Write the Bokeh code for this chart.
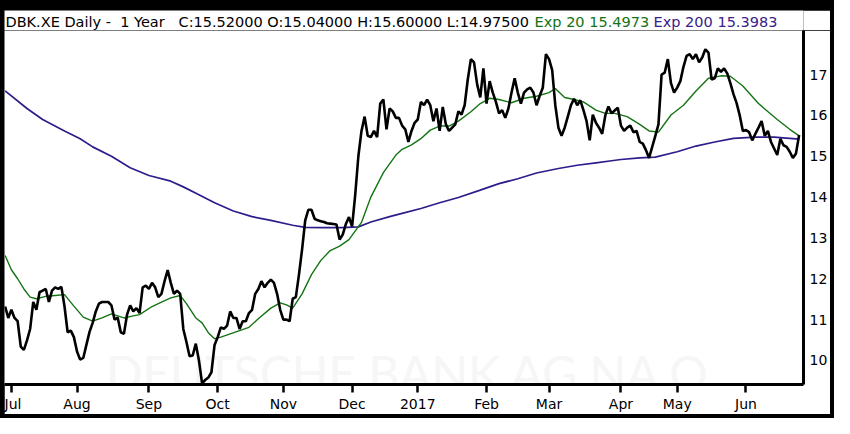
import pandas as pd
from bokeh.plotting import figure
from bokeh.layouts import column
from bokeh.models import Range1d, FixedTicker, Label, ColumnDataSource
from bokeh.core.properties import value
from bokeh.embed import file_html
from bokeh.resources import INLINE

# ---------------- data ----------------
start_date = "2016-06-29"
end_date = "2017-06-26"
holidays = ["2016-12-26", "2017-04-14", "2017-04-17", "2017-05-01"]

close = [
    11.32, 11.04, 11.24, 11.04, 10.96, 10.34, 10.26, 10.49, 10.77, 11.43,
    11.24, 11.67, 11.71, 11.75, 11.43, 11.71, 11.79, 11.75, 11.80, 11.32,
    10.69, 10.73, 10.57, 10.22, 10.02, 10.06, 10.38, 10.70, 10.92, 11.20,
    11.39, 11.43, 11.43, 11.43, 11.35, 11.00, 11.05, 10.69, 10.65, 11.12,
    11.35, 11.20, 11.28, 11.16, 11.79, 11.83, 11.75, 11.90, 11.79, 11.55,
    11.63, 11.94, 12.21, 11.90, 11.63, 11.71, 11.63, 10.77, 10.45, 10.10,
    10.12, 10.41, 10.00, 9.44, 9.52, 9.58, 9.71, 10.38, 10.57, 10.81,
    10.77, 10.85, 11.20, 11.04, 11.04, 10.77, 10.96, 10.96, 11.16, 11.24,
    11.63, 11.75, 11.94, 11.79, 11.90, 11.98, 11.90, 11.63, 11.24, 11.00,
    11.00, 10.96, 11.51, 11.55, 12.10, 12.72, 13.43, 13.69, 13.69, 13.47,
    13.43, 13.41, 13.39, 13.36, 13.35, 13.34, 13.33, 12.96, 13.08, 13.34,
    13.51, 13.28, 14.06, 15.00, 15.62, 15.97, 15.50, 15.47, 15.62, 15.47,
    16.29, 16.39, 15.66, 16.17, 16.10, 15.94, 15.94, 15.75, 15.66, 15.35,
    15.62, 15.82, 15.90, 16.33, 16.25, 16.39, 16.25, 15.86, 16.17, 15.62,
    16.21, 15.78, 15.62, 15.70, 15.78, 16.10, 16.02, 16.25, 16.88, 17.38,
    17.30, 16.76, 16.44, 17.15, 16.29, 16.84, 16.56, 16.33, 16.05, 16.13,
    15.94, 16.17, 16.56, 16.91, 16.56, 16.29, 16.56, 16.64, 16.68, 16.56,
    16.25, 16.48, 16.68, 17.50, 17.38, 17.11, 16.25, 15.70, 15.50, 15.70,
    15.97, 16.25, 16.41, 16.25, 16.37, 16.13, 15.86, 15.39, 16.02, 15.82,
    15.70, 15.55, 16.00, 16.22, 16.05, 16.12, 16.19, 15.75, 15.62, 15.70,
    15.75, 15.59, 15.62, 15.35, 15.31, 15.15, 14.96, 15.23, 15.50, 15.78,
    17.00, 17.05, 17.38, 16.79, 16.56, 16.68, 16.84, 17.19, 17.46, 17.50,
    17.38, 17.50, 17.30, 17.42, 17.62, 17.54, 16.88, 16.91, 17.15, 17.07,
    17.15, 17.03, 16.79, 16.52, 16.30, 16.00, 15.62, 15.64, 15.59, 15.39,
    15.55, 15.70, 15.86, 15.50, 15.62, 15.35, 15.19, 15.03, 15.43, 15.27,
    15.23, 15.11, 14.96, 15.07, 15.52,
]

ema20_day = [0, 2, 4, 6, 8, 10, 13, 16, 19, 22, 25, 28, 31, 34, 38, 41, 43, 47,
             50, 53, 56, 58, 61, 63, 65, 67, 69, 72, 75, 78, 81, 85, 88, 90, 92,
             95, 98, 101, 104, 107, 110, 114, 117, 121, 125, 127, 130, 133, 136,
             139, 142, 145, 149, 152, 155, 158, 162, 166, 170, 174, 176, 179,
             182, 185, 189, 192, 195, 199, 203, 206, 209, 213, 217, 221, 225,
             229, 232, 236, 241, 247, 251, 254]
ema20 = [12.57, 12.22, 12.00, 11.75, 11.55, 11.51, 11.57, 11.59, 11.61, 11.33,
         11.06, 10.96, 11.04, 11.14, 11.04, 11.09, 11.12, 11.32, 11.43, 11.53,
         11.59, 11.39, 11.04, 10.92, 10.68, 10.53, 10.57, 10.65, 10.73, 10.81,
         11.02, 11.28, 11.41, 11.36, 11.28, 11.63, 12.10, 12.45, 12.69, 12.80,
         12.96, 13.38, 14.00, 14.60, 15.03, 15.17, 15.28, 15.43, 15.64, 15.74,
         15.74, 15.86, 16.09, 16.29, 16.42, 16.39, 16.31, 16.42, 16.47, 16.56,
         16.66, 16.44, 16.39, 16.33, 16.13, 16.05, 16.05, 15.97, 15.78, 15.62,
         15.59, 16.01, 16.25, 16.60, 16.91, 16.97, 16.96, 16.72, 16.29, 15.90,
         15.66, 15.50]

ema200_day = [0, 7, 12, 19, 24, 28, 34, 40, 46, 53, 57, 62, 67, 73, 79, 85, 92,
              96, 102, 108, 113, 117, 123, 127, 133, 139, 145, 152, 158, 164,
              170, 177, 183, 189, 194, 197, 203, 208, 215, 221, 227, 233, 240,
              246, 254]
ema200 = [16.60, 16.17, 15.90, 15.62, 15.43, 15.23, 15.00, 14.72, 14.53, 14.39,
          14.25, 14.06, 13.86, 13.66, 13.52, 13.43, 13.31, 13.26, 13.25, 13.25,
          13.27, 13.39, 13.52, 13.60, 13.72, 13.86, 13.99, 14.17, 14.33, 14.45,
          14.59, 14.70, 14.78, 14.84, 14.89, 14.92, 14.96, 14.98, 15.11, 15.25,
          15.35, 15.44, 15.47, 15.47, 15.42]

month_labels = ["Jul", "Aug", "Sep", "Oct", "Nov", "Dec", "2017",
                "Feb", "Mar", "Apr", "May", "Jun"]
y_ticks = [10, 11, 12, 13, 14, 15, 16, 17]

NB = "\u00a0"
header_texts = ["DBK.XE Daily -" + NB * 2 + "1 Year" + NB * 3 +
                "C:15.52000 O:15.04000 H:15.60000 L:14.97500",
                "Exp 20 15.4973", "Exp 200 15.3983"]
header_colors = ["black", "#137313", "#3a2088"]
watermark = "DEUTSCHE BANK AG NA O."

# ---------------- calendar ----------------
days = pd.bdate_range(start_date, end_date)
days = days[~days.isin(pd.to_datetime(holidays))]
day_idx = list(range(len(days)))
assert len(day_idx) == len(close)

month_pos = []
prev = None
for i, d in enumerate(days):
    if d.month != prev:
        if prev is not None:
            month_pos.append(i)
        prev = d.month

# ---------------- sizes ----------------
W = 826
HEAD_H = 20
MAIN_H = 384
BOTTOM, RIGHT = 30, 24
FRAME_W = W - RIGHT
FONT = "DejaVu Sans"

# ---------------- header figure ----------------
h = figure(width=W, height=HEAD_H, output_backend="svg", toolbar_location=None,
           x_range=Range1d(0, W), y_range=Range1d(0, HEAD_H),
           x_axis_location=None, y_axis_location=None,
           min_border=0, margin=(10, 4, 0, 4))
h.outline_line_color = None
h.grid.visible = False
h.background_fill_color = "white"
h.border_fill_color = "white"
h.text(x=[1, 548, 671], y=[HEAD_H / 2 - 1] * 3, text=header_texts,
       text_color=header_colors, text_baseline="middle",
       text_font=value(FONT), text_font_size=value("14.5px"))

# ---------------- main figure ----------------
p = figure(width=W, height=MAIN_H, output_backend="svg", toolbar_location=None,
           x_range=Range1d(-0.2, 255.4), y_range=Range1d(9.41, 18.08),
           y_axis_location="right",
           min_border_left=0, min_border_right=RIGHT,
           min_border_top=0, min_border_bottom=BOTTOM,
           margin=(0, 4, 4, 4))
p.outline_line_color = None
p.grid.visible = False
p.background_fill_color = "white"
p.border_fill_color = "white"

# watermark
p.add_layout(Label(x=FRAME_W * 0.51, y=12, x_units="screen", y_units="screen",
                   text=watermark, text_align="center", text_baseline="alphabetic",
                   text_font="Lato", text_font_size="48px", text_color="#f6f6f6",
                   level="underlay"))

src = ColumnDataSource(dict(x=day_idx, close=close))
p.line(ema200_day, ema200, line_color="#2b1e8c", line_width=1.7)
p.line(ema20_day, ema20, line_color="#147414", line_width=1.4)
p.line("x", "close", source=src, line_color="black", line_width=2.6)

# axes
xa = p.xaxis[0]
xa.ticker = FixedTicker(ticks=month_pos)
xa.major_label_overrides = {pos: lab for pos, lab in zip(month_pos, month_labels)}
xa.major_label_text_align = "left"
xa.major_label_text_font = FONT
xa.major_label_text_font_size = "14px"
xa.major_label_text_color = "black"
xa.major_label_standoff = 3
xa.major_tick_out = 8
xa.major_tick_in = 0
xa.major_tick_line_width = 2.5
xa.major_tick_line_color = "black"
xa.minor_tick_line_color = None
xa.axis_line_width = 3
xa.axis_line_color = "black"

ya = p.yaxis[0]
ya.ticker = FixedTicker(ticks=y_ticks)
ya.major_label_text_font = FONT
ya.major_label_text_font_size = "14px"
ya.major_label_text_color = "black"
ya.major_label_standoff = 6
ya.major_tick_out = 0
ya.major_tick_in = 0
ya.minor_tick_line_color = None
ya.axis_line_width = 3
ya.axis_line_color = "black"

layout = column(h, p, spacing=0, styles={"background-color": "black"})

open("out.html", "w").write(file_html(layout, INLINE))
